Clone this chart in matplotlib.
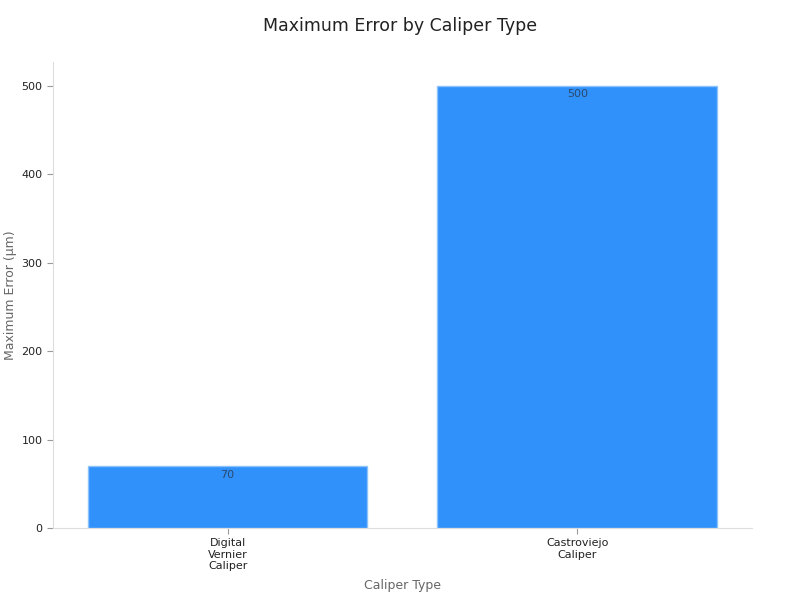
import matplotlib
matplotlib.use("Agg")
import matplotlib.pyplot as plt

categories = ["Digital\nVernier\nCaliper", "Castroviejo\nCaliper"]
max_error = [70, 500]

fig = plt.figure(figsize=(8, 6), dpi=100)
ax = fig.add_axes([0.066, 0.12, 0.874, 0.777])

x = list(range(len(categories)))
bars = ax.bar(x, max_error, width=0.8, color="#2f91f9", edgecolor="#8cc2fb", linewidth=1)

for b, v in zip(bars, max_error):
    ax.text(b.get_x() + b.get_width() / 2, v - 4, str(v), ha="center", va="top",
            fontsize=8, color="#2b4a6f")

ax.set_xlim(-0.5, 1.5)
ax.set_ylim(0, 527)
ax.set_xticks(x)
ax.set_xticklabels(categories, fontsize=8, color="#222222", linespacing=1.15)
ax.set_yticks([0, 100, 200, 300, 400, 500])
ax.tick_params(axis="y", labelsize=8, colors="#222222", length=4, color="#999999")
ax.tick_params(axis="x", length=4, color="#999999")

for s in ["top", "right"]:
    ax.spines[s].set_visible(False)
ax.spines["left"].set_color("#dddddd")
ax.spines["bottom"].set_color("#dddddd")

ax.set_xlabel("Caliper Type", fontsize=9, color="#666666", labelpad=6)
ax.set_ylabel("Maximum Error (µm)", fontsize=9, color="#666666", labelpad=3)
fig.suptitle("Maximum Error by Caliper Type", fontsize=12.5, color="#222222", y=0.972)

fig.savefig("out.png", dpi=100)
